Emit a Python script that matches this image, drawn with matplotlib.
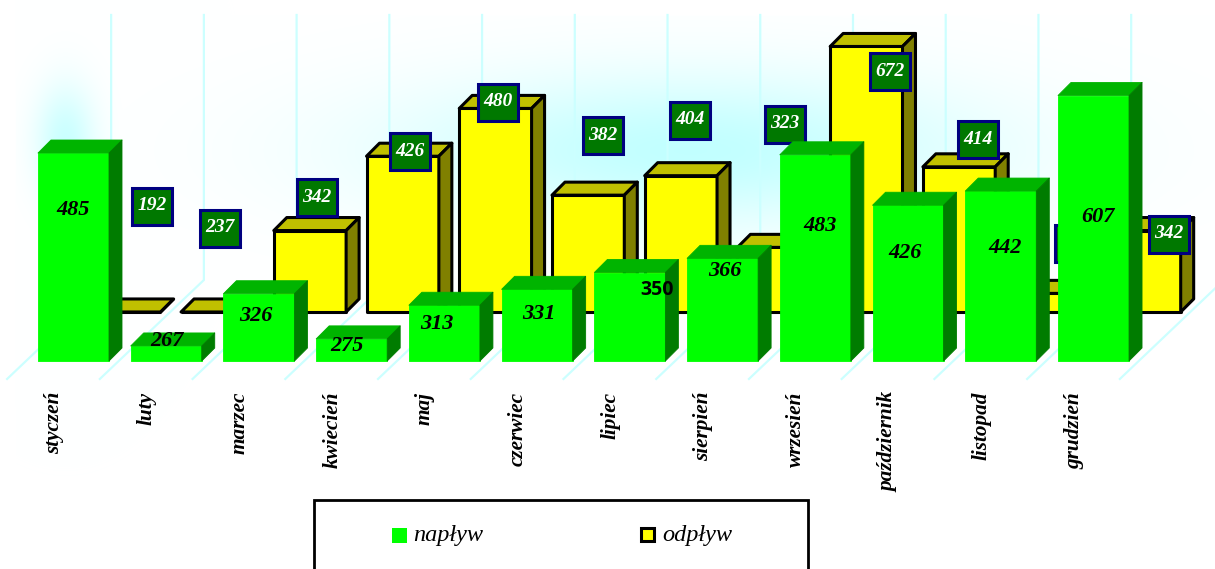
import numpy as np
import matplotlib
matplotlib.use("Agg")
import matplotlib.pyplot as plt
from matplotlib.patches import Polygon, Rectangle
from matplotlib.transforms import Affine2D

# Data
miesiace = ['styczeń', 'luty', 'marzec', 'kwiecień', 'maj', 'czerwiec', 'lipiec',
            'sierpień', 'wrzesień', 'październik', 'listopad', 'grudzień']
naplyw = [485, 267, 326, 275, 313, 331, 350, 366, 483, 426, 442, 607]
odplyw = [192, 237, 342, 426, 480, 382, 404, 323, 672, 414, 271, 342]

# value axis of the original is cut to this range
y_min, y_max = 250, 550

# hand placed labels in the original, pixels from top left
naplyw_lab_x = [73, 167, 256, 347, 437, 539, 657, 725, 820, 905, 1005, 1098]
naplyw_lab_y = [210, 341, 316, 346, 324, 314, 290, 271, 226, 253, 248, 217]
odplyw_lab_x = [152, 220, 317, 410, 498, 603, 690, 785, 890, 978, 1075, 1169]
odplyw_lab_y = [206, 228, 197, 151, 102, 135, 120, 124, 71, 139, 243, 234]

W, H = 1215, 569
fig = plt.figure(figsize=(W / 100, H / 100), dpi=100)
ax = fig.add_axes([0, 0, 1, 1])
ax.axis('off')

# scale: one category = 92.73 px, one unit = 0.885 px
px_x, px_y = 92.73, 0.885
x0_px, y0_px = 73.5, 361
xlim = (-x0_px / px_x, (W - x0_px) / px_x)
ylim = (y_min - (H - y0_px) / px_y, y_min + y0_px / px_y)

# pixel coordinates for labels
px = Affine2D().scale(1 / W, -1 / H).translate(0, 1) + fig.transFigure

# background glow
xx, yy = np.meshgrid(np.arange(W), np.arange(H))
glow = np.exp(-((xx - 690) / 290.0) ** 2 - ((yy - 150) / 75.0) ** 2) * ((xx > 111) & (yy > 15) & (yy < 300))
side = 0.85 * np.exp(-((xx - 65) / 30.0) ** 2 - ((yy - 140) / 55.0) ** 2) * (xx > 15)
a = np.clip(np.maximum(glow, side), 0, 1)[..., None]
bg = (1 - a) * np.array([1, 1, 1]) + a * np.array([0.76, 1, 1])
ax.imshow(bg, extent=(*xlim, *ylim), aspect='auto', zorder=0)
ax.set_xlim(xlim)
ax.set_ylim(ylim)

# grid lines, wall then floor
grid_col = '#ccffff'
for k in range(13):
    gx = k - 0.5
    ax.plot([gx + 0.906, gx + 0.906, gx - 0.216], [641, 341.5, 229.7],
            color=grid_col, lw=1.6, zorder=1, solid_joinstyle='miter')


def bar3d(x, val, width, colors, edge, lw, z):
    v = np.clip(val, y_min, y_max)
    base = y_min + z_base[z]
    left = x - width / 2
    right = x + width / 2
    h = v - y_min
    ddx, ddy = 0.14, 14.7
    front = [(left, base), (right, base), (right, base + h), (left, base + h)]
    top = [(left, base + h), (right, base + h), (right + ddx, base + h + ddy), (left + ddx, base + h + ddy)]
    rside = [(right, base), (right + ddx, base + ddy), (right + ddx, base + h + ddy), (right, base + h)]
    for pts, c in zip([front, top, rside], colors):
        ax.add_patch(Polygon(pts, closed=True, fc=c, ec=edge if edge else c, lw=lw if edge else 0.6,
                             zorder=z, joinstyle='round'))


z_base = {3: 55.4, 5: 0}
x = np.arange(len(miesiace))

# back row
for xi, v in zip(x, odplyw):
    bar3d(xi + 0.55, v, 0.78, ['#ffff00', '#c0c000', '#808000'], 'black', 2.2, 3)

# back row labels
for lx, ly, v in zip(odplyw_lab_x, odplyw_lab_y, odplyw):
    ax.add_patch(Rectangle((lx - 20, ly - 18.5), 40, 37, transform=px, fc='#007800', ec='#000080',
                           lw=2.2, zorder=4))
    ax.text(lx, ly, str(v), transform=px, ha='center', va='center', color='white', zorder=4.1,
            family='Liberation Serif', style='italic', weight='bold', fontsize=14)

# front row
for xi, v in zip(x, naplyw):
    bar3d(xi, v, 0.766, ['#00ff00', '#00b400', '#007c00'], None, 0, 5)

# front row labels
for lx, ly, v in zip(naplyw_lab_x, naplyw_lab_y, naplyw):
    if v == 350:
        ax.text(lx, ly, str(v), transform=px, ha='center', va='center', color='black', zorder=6,
                family='Open Sans', weight='bold', fontsize=14)
    else:
        ax.text(lx, ly, str(v), transform=px, ha='center', va='center', color='black', zorder=6,
                family='Liberation Serif', style='italic', weight='bold', fontsize=16)

# month labels
for xi, m in zip(x, miesiace):
    ax.text(xi - 0.21, 215, m, rotation=90, ha='center', va='top', color='black', zorder=6,
            family='Liberation Serif', style='italic', weight='bold', fontsize=15.3)

# legend, runs off the bottom of the picture
ax.add_patch(Rectangle((314, 500), 494, 80, transform=px, fc='white', ec='black', lw=2, zorder=7))
ax.add_patch(Rectangle((392, 528), 15, 15, transform=px, fc='#00ff00', ec='none', zorder=8))
ax.add_patch(Rectangle((640.5, 528.5), 13, 13, transform=px, fc='#ffff00', ec='black', lw=2.2, zorder=8))
ax.text(413, 536, 'napływ', transform=px, ha='left', va='center', zorder=8,
        family='Liberation Serif', style='italic', fontsize=17.5)
ax.text(662, 536, 'odpływ', transform=px, ha='left', va='center', zorder=8,
        family='Liberation Serif', style='italic', fontsize=17.5)

fig.savefig('out.png', dpi=100)
